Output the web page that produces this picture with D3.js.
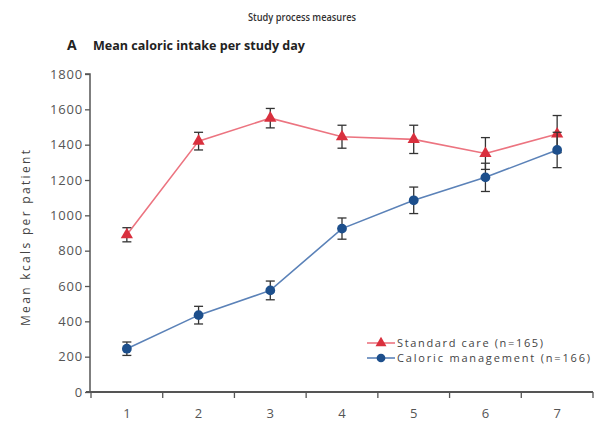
<!DOCTYPE html>
<html><head><meta charset="utf-8">
<script src="https://cdn.jsdelivr.net/npm/d3@7"></script>
<style>body{margin:0;background:#fff;}svg{display:block;}</style>
</head><body>
<svg id="c" width="594" height="438"></svg>
<script>
const days = ["1","2","3","4","5","6","7"];
const standardMean = [890, 1420, 1550, 1445, 1430, 1350, 1460];
const standardErr  = [40, 50, 55, 65, 80, 90, 105];
const caloricMean  = [245, 435, 575, 925, 1085, 1215, 1370];
const caloricErr   = [38, 50, 53, 60, 75, 80, 100];
const yTicks = [0, 200, 400, 600, 800, 1000, 1200, 1400, 1600, 1800];
const seriesNames = ["Standard care (n=165)", "Caloric management (n=166)"];

const svg = d3.select("#c");
const font = "'Open Sans', 'Noto Sans', sans-serif";
const x = d3.scaleBand().domain(days).range([91, 593]);
const y = d3.scaleLinear().domain([0, 1800]).range([392, 74]);

svg.append("text").attr("x", 248).attr("y", 21)
  .attr("font-family", font).attr("font-size", 11.5).attr("font-weight", 600).attr("fill", "#333")
  .attr("textLength", 108).attr("lengthAdjust", "spacingAndGlyphs")
  .text("Study process measures");
svg.append("text").attr("x", 67).attr("y", 50)
  .attr("font-family", font).attr("font-size", 14).attr("font-weight", 700).attr("fill", "#222")
  .text("A");
svg.append("text").attr("x", 93).attr("y", 50)
  .attr("font-family", font).attr("font-size", 12.5).attr("font-weight", 700).attr("fill", "#222")
  .attr("textLength", 212).attr("lengthAdjust", "spacingAndGlyphs")
  .text("Mean caloric intake per study day");

// y axis
const ya = svg.append("g").attr("transform", "translate(90,0)")
  .call(d3.axisLeft(y).tickValues(yTicks).tickSize(5).tickPadding(2).tickFormat(d3.format("d")));
ya.select(".domain").attr("stroke", "#555").attr("stroke-width", 1.5).attr("d", "M-5,74H0V392");
ya.selectAll(".tick line").attr("stroke", "#555").attr("stroke-width", 1.3);
ya.selectAll("text").attr("font-family", font).attr("font-size", 13).attr("letter-spacing", 0.8).attr("fill", "#555");

// x axis
const xa = svg.append("g").attr("transform", "translate(0,392)")
  .call(d3.axisBottom(x).tickSize(0).tickPadding(17));
xa.select(".domain").attr("stroke", "#555").attr("stroke-width", 1.8).attr("d", "M86,0H593");
xa.selectAll("text").attr("font-family", font).attr("font-size", 13).attr("fill", "#555");
const bounds = days.map(d => x(d)).concat([x.range()[1]]);
xa.selectAll(".bt").data(bounds).join("line").attr("class", "bt")
  .attr("x1", d => d).attr("x2", d => d).attr("y1", 0).attr("y2", 6)
  .attr("stroke", "#555").attr("stroke-width", 1.3);

svg.append("text").attr("transform", "translate(30,238) rotate(-90)").attr("text-anchor", "middle")
  .attr("font-family", font).attr("font-size", 12).attr("fill", "#444")
  .attr("textLength", 176).attr("lengthAdjust", "spacing")
  .text("Mean kcals per patient");

const cx = d => x(d) + x.bandwidth() / 2;
const series = [
  {mean: standardMean, err: standardErr, line: "#ec7480", mark: "#d9303e", shape: d3.symbolTriangle, size: 65},
  {mean: caloricMean, err: caloricErr, line: "#5b82b8", mark: "#1d4f8c", shape: d3.symbolCircle, size: 75}
];
const line = d3.line().x((v, i) => cx(days[i])).y(v => y(v));

series.forEach(s => {
  svg.append("path").attr("d", line(s.mean)).attr("fill", "none")
    .attr("stroke", s.line).attr("stroke-width", 1.6);
});
series.forEach(s => {
  const g = svg.append("g");
  days.forEach((d, i) => {
    const px = cx(d), t = y(s.mean[i] + s.err[i]), b = y(s.mean[i] - s.err[i]);
    g.append("line").attr("x1", px).attr("x2", px).attr("y1", t).attr("y2", b).attr("stroke", "#333").attr("stroke-width", 1.3);
    g.append("line").attr("x1", px - 4.5).attr("x2", px + 4.5).attr("y1", t).attr("y2", t).attr("stroke", "#333").attr("stroke-width", 1.3);
    g.append("line").attr("x1", px - 4.5).attr("x2", px + 4.5).attr("y1", b).attr("y2", b).attr("stroke", "#333").attr("stroke-width", 1.3);
    g.append("path").attr("d", d3.symbol().type(s.shape).size(s.size)())
      .attr("transform", `translate(${px},${y(s.mean[i])})`).attr("fill", s.mark);
  });
});

// legend
const legendLen = [146, 193];
seriesNames.forEach((n, i) => {
  const s = series[i], ly = 343 + i * 15;
  svg.append("line").attr("x1", 367).attr("x2", 395).attr("y1", ly).attr("y2", ly)
    .attr("stroke", s.line).attr("stroke-width", 1.6);
  svg.append("path").attr("d", d3.symbol().type(s.shape).size(s.size * 0.8)())
    .attr("transform", `translate(381,${ly})`).attr("fill", s.mark);
  svg.append("text").attr("x", 397).attr("y", ly + 4)
    .attr("font-family", font).attr("font-size", 11).attr("fill", "#444")
    .attr("textLength", legendLen[i]).attr("lengthAdjust", "spacing").text(n);
});
</script>
</body></html>
